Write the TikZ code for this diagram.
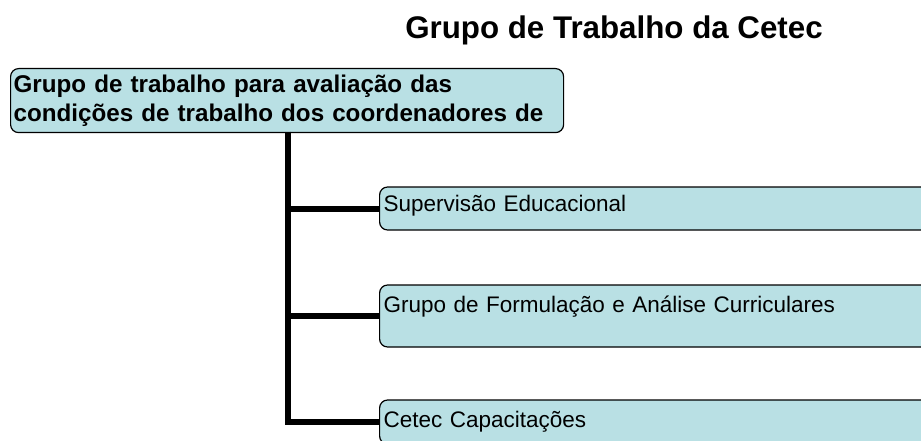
\documentclass[tikz,border=0pt]{standalone}
\usepackage{fontspec}
\setmainfont{Liberation Sans}
\usepackage{tikz}
\definecolor{boxblue}{RGB}{185,224,228}

\begin{document}
\begin{tikzpicture}[x=1pt,y=-1pt,
    unit/.style={draw, line width=1.2pt, fill=boxblue, rounded corners=8pt, anchor=base west,
      text width=592pt, inner xsep=4pt, inner ysep=0pt, align=left,
      font=\fontsize{22.5}{27}\selectfont},
    bus/.style={line width=6pt}]
    \useasboundingbox (0,0) rectangle (921,441);
    \node [font=\fontsize{31.3}{37}\selectfont\bfseries, anchor=base] (title) at (614,39) {Grupo de Trabalho da Cetec};
    \node [draw, line width=1.2pt, fill=boxblue, rounded corners=8pt, anchor=north west,
      minimum height=64pt, text width=547pt, inner xsep=3pt, align=left,
      font=\fontsize{24.2}{28.5}\selectfont\bfseries] (grupo) at (10,68)
      {Grupo de trabalho para avaliação das\\condições de trabalho dos coordenadores de};
    \coordinate (trunk) at (288,132);
    \node [unit, text height=24pt, text depth=19pt] (superv) at (379,211) {Supervisão Educacional};
    \node [unit, text height=27pt, text depth=35pt] (formul) at (379,312) {Grupo de Formulação e Análise Curriculares};
    \node [unit, text height=27pt, text depth=17pt] (capac) at (379,427) {Cetec Capacitações};
    \draw [bus] (trunk) |- (superv.west);
    \draw [bus] (trunk) |- (formul.west);
    \draw [bus] (trunk) |- (capac.west);
\end{tikzpicture}
\end{document}
